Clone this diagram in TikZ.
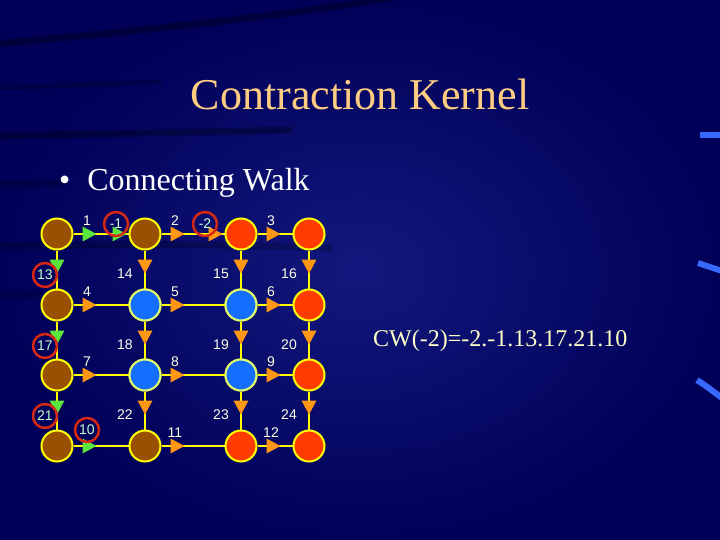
\documentclass[tikz,border=0pt]{standalone}
\usepackage{fontspec}
\setmainfont{Liberation Serif}
\newfontfamily\lblfont{Liberation Sans}
\usetikzlibrary{calc,shapes.geometric}
\definecolor{bgdark}{RGB}{0,0,88}
\definecolor{bgmid}{RGB}{18,24,125}
\definecolor{dashblue}{RGB}{55,105,255}
\definecolor{titlecol}{RGB}{255,205,130}
\definecolor{cwcol}{RGB}{255,255,200}
\definecolor{vbrown}{RGB}{153,80,0}
\definecolor{vblue}{RGB}{20,110,255}
\definecolor{vred}{RGB}{255,60,0}
\definecolor{rimyellow}{RGB}{255,255,0}
\definecolor{rimpale}{RGB}{225,255,110}
\definecolor{triorange}{RGB}{255,150,20}
\definecolor{trigreen}{RGB}{90,230,60}
\definecolor{walkred}{RGB}{215,40,20}
\definecolor{walktext}{RGB}{200,255,210}
\definecolor{lbltext}{RGB}{255,255,230}
\begin{document}
\begin{tikzpicture}[x=1pt,y=-1pt,
    vtx/.style={circle,fill=#1,draw=rimyellow,line width=2pt,minimum size=31pt,inner sep=0pt},
    edge/.style={draw=rimyellow,line width=2.6pt},
    tri/.style={isosceles triangle,isosceles triangle stretches,fill=#1,
      inner sep=0pt,minimum width=15pt,minimum height=14pt,sloped,pos=1},
    lbl/.style={text=lbltext,font=\lblfont\fontsize{14}{14}\selectfont,inner sep=0pt},
    walk/.style={lbl,circle,draw=walkred,line width=2.5pt,minimum size=24pt,text=walktext}]
  % background
  \useasboundingbox (0,0) rectangle (720,540);
  \shade[inner color=bgmid,outer color=bgdark] (0,0) rectangle (720,540);
  \begin{scope}[black,opacity=.3,line width=7pt,line cap=round]
    \draw (-5,44) .. controls (150,30) and (300,14) .. (400,-4);
    \draw[opacity=.2,line width=5pt] (-5,88) -- (160,82);
    \draw (-5,136) .. controls (100,134) and (200,132) .. (290,130);
    \draw[opacity=.2] (-5,184) -- (60,184);
    \draw[opacity=.2] (-5,246) .. controls (120,244) and (220,244) .. (330,248);
    \draw[opacity=.15] (-5,296) -- (40,294);
  \end{scope}
  \begin{scope}[dashblue,line width=6pt]
    \draw (700,135) -- (722,135);
    \draw (698,263) -- (722,271);
    \draw (697,380) .. controls (706,386) .. (722,398);
  \end{scope}
  % texts
  \node[anchor=base,text=titlecol,font=\fontsize{44}{44}\selectfont] (title) at (360,110) {Contraction Kernel};
  \node[anchor=base west,text=white,font=\fontsize{32}{32}\selectfont,inner sep=0pt] (bullet) at (59,191)
    {\textbullet\hspace{17pt}Connecting Walk};
  \node[anchor=base west,text=cwcol,font=\fontsize{24}{24}\selectfont,inner sep=0pt] (cw) at (373,346)
    {CW(-2)=-2.-1.13.17.21.10};
  % vertices
  \foreach \n/\x/\y/\c in {n11/57/234/vbrown,n12/145/234/vbrown,n13/241/234/vred,n14/309/234/vred,
      n21/57/305/vbrown,n22/145/305/vblue,n23/241/305/vblue,n24/309/305/vred,
      n31/57/375/vbrown,n32/145/375/vblue,n33/241/375/vblue,n34/309/375/vred,
      n41/57/446/vbrown,n42/145/446/vbrown,n43/241/446/vred,n44/309/446/vred}
    \node[vtx=\c] (\n) at (\x,\y) {};
  \foreach \n in {n22,n23,n32,n33}
    \node[vtx=vblue,draw=rimpale] at (\n) {};
  % edges
  \foreach \a/\b/\k/\c in {n11/n12/1/trigreen,n12/n13/2/triorange,n13/n14/3/triorange,
      n21/n22/4/triorange,n22/n23/5/triorange,n23/n24/6/triorange,
      n31/n32/7/triorange,n32/n33/8/triorange,n33/n34/9/triorange,
      n41/n42/10/trigreen,n42/n43/11/triorange,n43/n44/12/triorange,
      n11/n21/13/trigreen,n12/n22/14/triorange,n13/n23/15/triorange,n14/n24/16/triorange,
      n21/n31/17/trigreen,n22/n32/18/triorange,n23/n33/19/triorange,n24/n34/20/triorange,
      n31/n41/21/trigreen,n32/n42/22/triorange,n33/n43/23/triorange,n34/n44/24/triorange}
    \draw[edge] (\a) -- node[tri=\c] (t\k) {} ($(\a)!30pt!(\b)$) -- (\b);
  \path (n12) -- node[tri=trigreen] (r1) {} ($(n12)!28pt!(n11)$);
  \path (n13) -- node[tri=triorange] (r2) {} ($(n13)!28pt!(n12)$);
  % labels
  \foreach \k in {1,...,9,11,12}
    \node[lbl] at ([yshift=13pt]t\k) {\k};
  \foreach \k in {14,15,16,18,19,20,22,23,24}
    \node[lbl] at ([shift={(-20pt,-10pt)}]t\k) {\k};
  \foreach \k in {13,17,21}
    \node[walk] at ([shift={(-12pt,-11pt)}]t\k) {\k};
  \node[walk] at ([yshift=16pt]t10) {10};
  \node[walk] at ([shift={(-1pt,10pt)}]r1) {-1};
  \node[walk] at ([shift={(-8pt,10pt)}]r2) {-2};
\end{tikzpicture}
\end{document}
